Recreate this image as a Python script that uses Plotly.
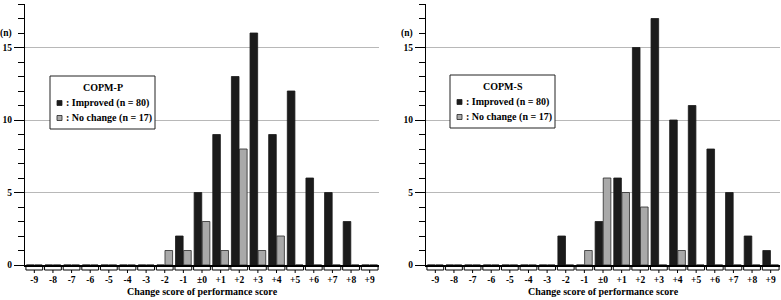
import plotly.graph_objects as go

# ---- data ----
CHANGE_SCORES = list(range(-9, 10))
TICK_LABELS = ["-9", "-8", "-7", "-6", "-5", "-4", "-3", "-2", "-1", "±0",
               "+1", "+2", "+3", "+4", "+5", "+6", "+7", "+8", "+9"]
P_IMPROVED = [0, 0, 0, 0, 0, 0, 0, 0, 2, 5, 9, 13, 16, 9, 12, 6, 5, 3, 0]
P_NO_CHANGE = [0, 0, 0, 0, 0, 0, 0, 1, 1, 3, 1, 8, 1, 2, 0, 0, 0, 0, 0]
S_IMPROVED = [0, 0, 0, 0, 0, 0, 0, 2, 0, 3, 6, 15, 17, 10, 11, 8, 5, 2, 1]
S_NO_CHANGE = [0, 0, 0, 0, 0, 0, 0, 0, 1, 6, 5, 4, 0, 1, 0, 0, 0, 0, 0]
PANEL_TITLES = ["COPM-P", "COPM-S"]
SERIES_NAMES = [": Improved (n = 80)", ": No change (n = 17)"]
Y_MAJOR_TICKS = [0, 5, 10, 15]
Y_UNIT_LABEL = "(n)"
Y_UNIT_POS = 16
Y_MAX = 18
X_TITLE = "Change score of performance score"

# ---- style ----
FONT = "Liberation Serif, Times New Roman, serif"
DARK = "#1b1b1b"
GRAY = "#a9a9a9"
GRID = "#b8b8b8"
SERIES_COLORS = [DARK, GRAY]

fig = go.Figure()

panels = [(P_IMPROVED, P_NO_CHANGE, "x", "y"),
          (S_IMPROVED, S_NO_CHANGE, "x2", "y2")]

for (imp, noc, xa, ya) in panels:
    fig.add_trace(go.Bar(x=CHANGE_SCORES, y=imp, name=SERIES_NAMES[0],
                         marker=dict(color=DARK, line=dict(color=DARK, width=0.8)),
                         xaxis=xa, yaxis=ya, showlegend=False, hoverinfo="skip"))
    fig.add_trace(go.Bar(x=CHANGE_SCORES, y=noc, name=SERIES_NAMES[1],
                         marker=dict(color=GRAY, line=dict(color="#2a2a2a", width=0.8)),
                         xaxis=xa, yaxis=ya, showlegend=False, hoverinfo="skip"))

W, H = 781, 300
ML, MR, MT, MB = 25, 1, 4, 35
plot_w = W - ML - MR
plot_h = H - MT - MB
panel_w = 354


def px_to_paper_y(py):
    return (H - MB - py) / plot_h


def px_to_paper_x(px):
    return (px - ML) / plot_w


xaxis_common = dict(
    range=[-9.5, 9.5], tickvals=CHANGE_SCORES, ticktext=TICK_LABELS,
    ticks="", ticklabelstandoff=5, showline=True, linecolor="black", linewidth=2,
    showgrid=False, zeroline=False, fixedrange=True,
    tickfont=dict(family=FONT, size=9.5, color="black", weight="bold"),
    title=dict(text=X_TITLE, standoff=4,
               font=dict(family=FONT, size=10, color="black", weight="bold")),
)
yaxis_common = dict(
    range=[0, Y_MAX], tickvals=Y_MAJOR_TICKS, ticks="outside", ticklen=10,
    tickcolor="black", tickwidth=1, showline=True, linecolor="black", linewidth=1.3,
    showgrid=True, gridcolor=GRID, gridwidth=1, zeroline=False, fixedrange=True,
    tickfont=dict(family=FONT, size=9.5, color="black", weight="bold"),
    minor=dict(dtick=1, ticks="outside", ticklen=6, tickcolor="black", tickwidth=1,
               showgrid=False),
)

fig.update_layout(
    width=W, height=H,
    margin=dict(l=ML, r=MR, t=MT, b=MB),
    paper_bgcolor="white", plot_bgcolor="white",
    barmode="group", bargap=0.13, bargroupgap=0.06,
    showlegend=False,
    font=dict(family=FONT, size=9, color="black", weight="bold"),
    xaxis=dict(domain=[0, panel_w / plot_w], anchor="y", **xaxis_common),
    yaxis=dict(domain=[0, 1], anchor="x", **yaxis_common),
    xaxis2=dict(domain=[1 - panel_w / plot_w, 1], anchor="y2", **xaxis_common),
    yaxis2=dict(domain=[0, 1], anchor="x2", **yaxis_common),
)

# ---- legend boxes (drawn as a key: box, title, swatches, labels) ----
legend_pos = [(50, 76), (450, 75)]
BOX_W, BOX_H = 105, 53
for i, (lx, ly) in enumerate(legend_pos):
    fig.add_shape(type="rect", xref="paper", yref="paper",
                  x0=px_to_paper_x(lx), x1=px_to_paper_x(lx + BOX_W),
                  y0=px_to_paper_y(ly), y1=px_to_paper_y(ly + BOX_H),
                  fillcolor="white", line=dict(color="#222", width=1), layer="above")
    fig.add_annotation(text=PANEL_TITLES[i], xref="paper", yref="paper",
                       x=px_to_paper_x(lx + BOX_W / 2), y=px_to_paper_y(ly + 11.5),
                       xanchor="center", yanchor="middle", showarrow=False,
                       font=dict(family=FONT, size=10, color="black", weight="bold"))
    for k, (name, col) in enumerate(zip(SERIES_NAMES, SERIES_COLORS)):
        cy = ly + 27 + 15 * k
        fig.add_shape(type="rect", xref="paper", yref="paper",
                      x0=px_to_paper_x(lx + 7), x1=px_to_paper_x(lx + 12),
                      y0=px_to_paper_y(cy - 2.5), y1=px_to_paper_y(cy + 2.5),
                      fillcolor=col, line=dict(color="#222", width=0.8), layer="above")
        fig.add_annotation(text=name, xref="paper", yref="paper",
                           x=px_to_paper_x(lx + 14), y=px_to_paper_y(cy),
                           xanchor="left", yanchor="middle", showarrow=False,
                           font=dict(family=FONT, size=10, color="black", weight="bold"))

# ---- y-unit label "(n)" and category brackets below the baseline ----
for xa, ya in [("x", "y"), ("x2", "y2")]:
    fig.add_annotation(text=Y_UNIT_LABEL, xref=f"{xa} domain", yref=ya, x=0, y=Y_UNIT_POS,
                       xanchor="right", yanchor="middle", xshift=-11, showarrow=False,
                       font=dict(family=FONT, size=9.5, color="black", weight="bold"))
    y0 = px_to_paper_y(266)
    y1 = px_to_paper_y(270)
    y2 = px_to_paper_y(273)
    half = 0.45
    for c in CHANGE_SCORES:
        path = (f"M {c - half},{y0} L {c - half},{y1} L {c + half},{y1} L {c + half},{y0} "
                f"M {c},{y1} L {c},{y2}")
        fig.add_shape(type="path", path=path, xref=xa, yref="paper",
                      line=dict(color="black", width=1))

fig.write_html("out.html", config={"displayModeBar": False},
               post_script="document.body.style.margin='0';")
